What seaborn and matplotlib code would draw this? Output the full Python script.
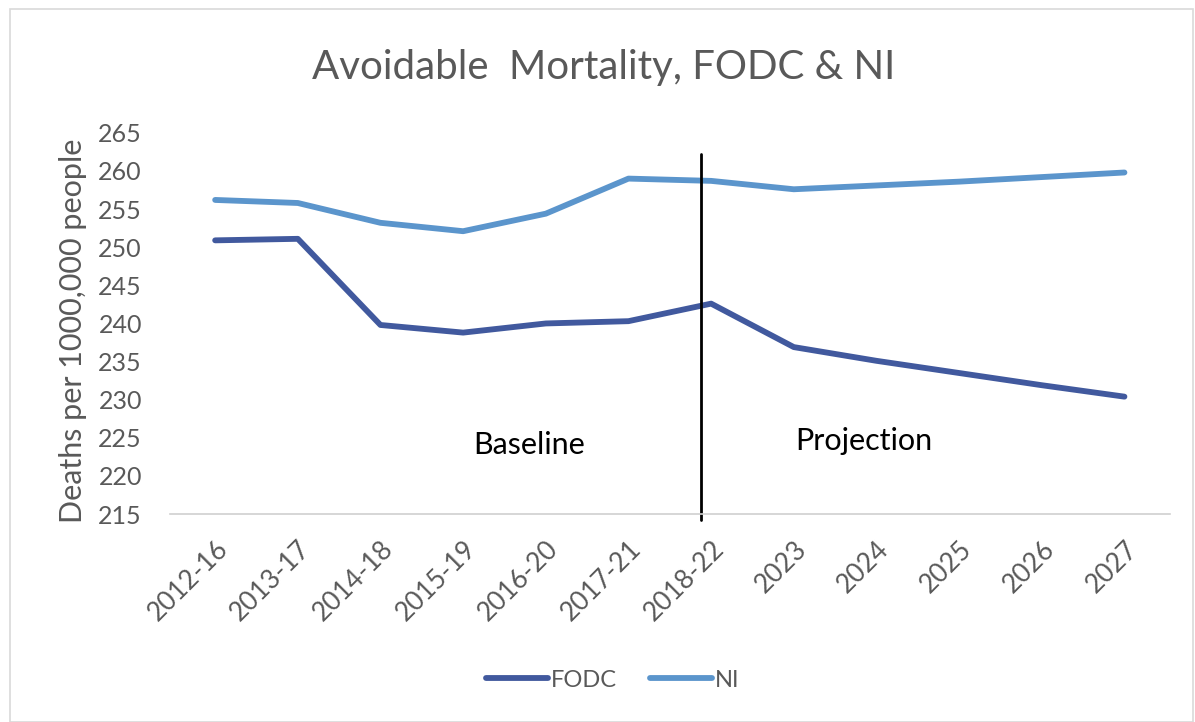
import matplotlib
matplotlib.use("Agg")
import matplotlib.pyplot as plt
import seaborn as sns
import pandas as pd
from matplotlib.patches import Rectangle
from matplotlib.lines import Line2D

categories = ["2012-16", "2013-17", "2014-18", "2015-19", "2016-20", "2017-21",
              "2018-22", "2023", "2024", "2025", "2026", "2027"]
fodc = [250.9, 251.1, 239.8, 238.8, 240.0, 240.3, 242.6, 236.9, 235.1, 233.5, 231.9, 230.4]
ni = [256.2, 255.8, 253.2, 252.1, 254.4, 259.0, 258.7, 257.6, 258.1, 258.6, 259.2, 259.8]
series_names = ["FODC", "NI"]
yticks = list(range(215, 266, 5))

sns.set_theme(style="white")
plt.rcParams["font.family"] = ["Lato", "DejaVu Sans"]

df = pd.DataFrame({
    "period": categories * 2,
    "x": list(range(len(categories))) * 2,
    "value": fodc + ni,
    "series": [series_names[0]] * len(categories) + [series_names[1]] * len(categories),
})

grey = "#595959"
c_fodc = "#41599e"
c_ni = "#5b95cc"
fig = plt.figure(figsize=(11.95, 7.22), dpi=100)
ax = fig.add_axes([0.142, 0.288, 0.837, 0.528])

sns.lineplot(data=df, x="x", y="value", hue="series",
             palette={"FODC": c_fodc, "NI": c_ni},
             linewidth=4.2, ax=ax, legend=False, sort=False)

ax.set_xlim(-0.55, len(categories) - 0.45)
ax.set_ylim(215, 265)
ax.set_yticks(yticks)
ax.set_yticklabels([str(t) for t in yticks], fontsize=18, color=grey)
ax.set_xticks(range(len(categories)))
ax.set_xticklabels(categories, rotation=45, ha="right", rotation_mode="anchor",
                   fontsize=19, color=grey)
ax.tick_params(axis="y", length=0, pad=20)
ax.tick_params(axis="x", length=0, pad=16)
ax.set_xlabel("")
ax.set_ylabel("Deaths per 1000,000 people", fontsize=22, color=grey)
ax.yaxis.set_label_coords(-0.083, 0.48)
for s in ["top", "right", "left"]:
    ax.spines[s].set_visible(False)
ax.spines["bottom"].set_color("#d0d0d0")
ax.spines["bottom"].set_linewidth(1.2)

# divider between baseline and projection
ax.plot([5.88, 5.88], [214.2, 262.2], color="black", linewidth=2, clip_on=False)
ax.text(3.8, 224.1, "Baseline", fontsize=22, color="black", ha="center", va="center")
ax.text(7.85, 224.6, "Projection", fontsize=22, color="black", ha="center", va="center")

fig.text(0.505, 0.906, "Avoidable  Mortality, FODC & NI", fontsize=29, color=grey,
         ha="center", va="center")

handles = [Line2D([0], [0], color=c_fodc, lw=4.2, solid_capstyle="round"),
           Line2D([0], [0], color=c_ni, lw=4.2, solid_capstyle="round")]
leg = fig.legend(handles, series_names, loc="center", bbox_to_anchor=(0.513, 0.058),
                 ncol=2, frameon=False, fontsize=17, handlelength=2.6,
                 handletextpad=0.15, columnspacing=1.4)
for t in leg.get_texts():
    t.set_color(grey)

fig.patches.append(Rectangle((0.008, 0.0), 0.99, 0.988, transform=fig.transFigure,
                             fill=False, edgecolor="#d9d9d9", linewidth=1.2))

fig.savefig("out.png", dpi=100)
